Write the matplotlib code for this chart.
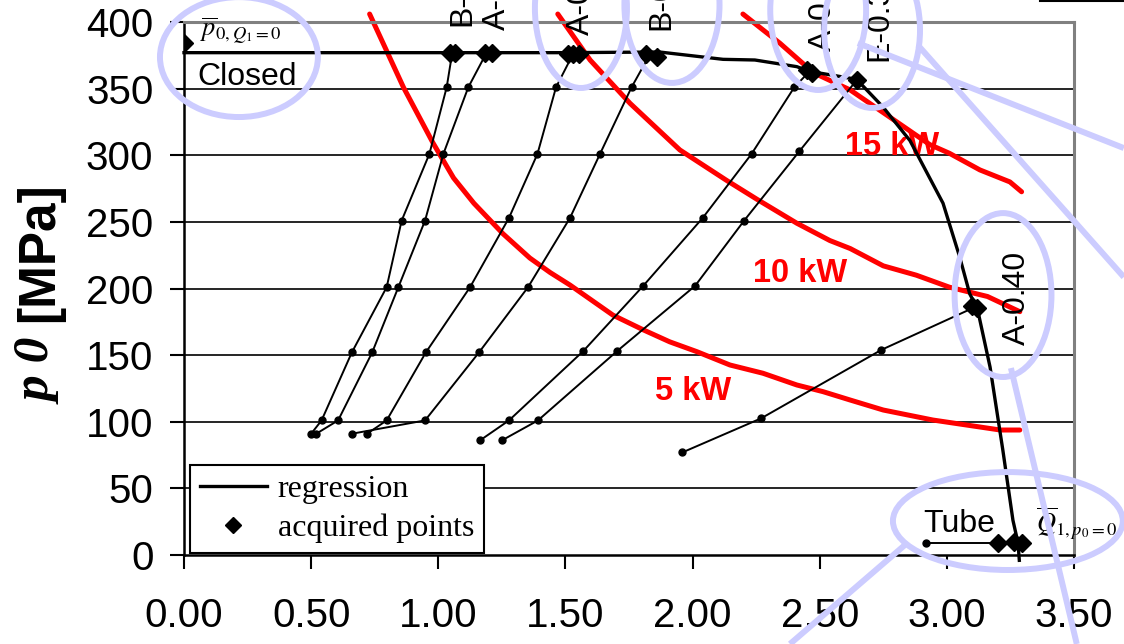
"""Operating map of injection pressure p0 versus flow, with constant-power curves."""

import matplotlib

matplotlib.use("Agg")  # Non-interactive backend

import matplotlib.pyplot as plt
from matplotlib.lines import Line2D
from matplotlib.patches import Ellipse

plt.rcParams["font.family"] = ["Liberation Sans", "DejaVu Sans"]
plt.rcParams["mathtext.fontset"] = "stix"

# Regression through the acquired points
reg_q = [0.0, 1.0, 1.5, 1.87, 2.12, 2.245, 2.41, 2.46, 2.645, 2.75, 2.855,
         2.985, 3.05, 3.09, 3.12, 3.17, 3.22, 3.26, 3.28, 3.285]
reg_p = [377, 377, 377, 377.5, 372, 371.5, 366.5, 363, 357, 336, 311,
         264, 224, 196, 185, 141, 79, 26, 9, -4]

# Acquired points (end points of each nozzle line)
acq_q = [0.0, 1.045, 1.065, 1.185, 1.21, 1.51, 1.53, 1.555, 1.815, 1.86,
         2.45, 2.47, 2.646, 3.10, 3.12, 3.20, 3.265, 3.295]
acq_p = [384.5, 377, 377, 377, 377, 376, 376, 376, 376, 374,
         364, 362, 356.5, 187, 185, 9, 10, 9]

# Nozzle characteristic lines (measured points, last one is the acquired point)
b1_q = [0.50, 0.541, 0.66, 0.797, 0.856, 0.965, 1.033, 1.055]
b1_p = [91, 101, 152, 201, 251, 301, 351, 377]
a1_q = [0.52, 0.606, 0.74, 0.843, 0.948, 1.02, 1.118, 1.19]
a1_p = [91, 101, 152, 201, 251, 301, 351, 377]
a2_q = [0.72, 0.797, 0.951, 1.125, 1.278, 1.39, 1.463, 1.53]
a2_p = [91, 101, 152, 201, 253, 301, 351, 376]
b2_q = [0.66, 0.948, 1.16, 1.353, 1.518, 1.636, 1.76, 1.83]
b2_p = [91, 101, 152, 201, 253, 301, 351, 375]
a3_q = [1.164, 1.278, 1.57, 1.806, 2.04, 2.232, 2.40, 2.46]
a3_p = [86, 101, 153, 202, 253, 301, 351, 363]
e3_q = [1.25, 1.392, 1.703, 2.01, 2.203, 2.42, 2.646]
e3_p = [86, 101, 153, 202, 251, 303, 356.5]
a4_q = [1.96, 2.27, 2.743, 3.11]
a4_p = [77, 102.6, 154, 186]
tube_q = [2.918, 3.20]
tube_p = [9, 9]

line_labels = ["B-0.20", "A-0.20", "A-0.25", "B-0.25", "A-0.30", "E-0.30", "A-0.40"]

# Constant hydraulic power curves
p5_q = [0.73, 0.863, 0.98, 1.06, 1.14, 1.255, 1.36, 1.44, 1.518, 1.687, 1.806,
        1.91, 2.017, 2.147, 2.277, 2.41, 2.513, 2.62, 2.75, 2.945, 3.21, 3.287]
p5_p = [406, 351, 309, 283, 264, 241, 222.9, 212, 202.6, 180, 169,
        160, 152.6, 142.6, 136.4, 127.6, 122.6, 116.3, 108.8, 101.3, 93.8, 93.8]
p10_q = [1.47, 1.597, 1.754, 1.95, 2.135, 2.253, 2.41, 2.54, 2.62, 2.75,
         2.88, 3.01, 3.16, 3.287]
p10_p = [406, 371.5, 339, 304, 281, 267, 249, 236, 230, 217,
         210, 201, 194, 182.6]
p15_q = [2.198, 2.344, 2.475, 2.62, 2.75, 2.933, 3.01, 3.13, 3.248, 3.294]
p15_p = [406, 384, 362, 349, 332, 308, 301.5, 289, 280, 272.6]

x_ticks = [0.0, 0.5, 1.0, 1.5, 2.0, 2.5, 3.0, 3.5]
y_ticks = [0, 50, 100, 150, 200, 250, 300, 350, 400]

HIGHLIGHT = "#ccccff"
RED = "#ff0000"
SERIF = ["Liberation Serif", "DejaVu Serif"]

fig = plt.figure(figsize=(11.24, 6.44), dpi=100)
ax = fig.add_axes([0.1637, 0.1382, 0.7918, 0.8276])

ax.set_xlim(0, 3.5)
ax.set_ylim(0, 400)
ax.set_xticks(x_ticks)
ax.set_xticklabels([f"{v:.2f}" for v in x_ticks])
ax.set_yticks(y_ticks)
ax.tick_params(axis="both", direction="out", length=10, width=1.5,
               labelsize=29, color="black")
ax.tick_params(axis="x", pad=20)
ax.tick_params(axis="y", pad=12)

# horizontal grid only, the frame top replaces the 400 line
for y in y_ticks[1:-1]:
    ax.axhline(y, color="black", lw=1.2, zorder=1)

for side in ("left", "bottom"):
    ax.spines[side].set_color("black")
    ax.spines[side].set_linewidth(1.8)
for side in ("top", "right"):
    ax.spines[side].set_color("#808080")
    ax.spines[side].set_linewidth(2.2)

# power curves
for q, p in ((p5_q, p5_p), (p10_q, p10_p), (p15_q, p15_p)):
    ax.plot(q, p, color=RED, lw=3.6, solid_capstyle="round", zorder=2,
            clip_on=False)
ax.text(1.852, 116.3, "5 kW", color=RED, fontsize=23.5, fontweight="bold",
        ha="left", va="baseline", zorder=2.5)
ax.text(2.2375, 204.9, "10 kW", color=RED, fontsize=23.5, fontweight="bold",
        ha="left", va="baseline", zorder=2.5)
ax.text(2.599, 300.2, "15 kW", color=RED, fontsize=23.5, fontweight="bold",
        ha="left", va="baseline", zorder=2.5)

# nozzle lines with their measured points
nozzles = [(b1_q, b1_p), (a1_q, a1_p), (a2_q, a2_p), (b2_q, b2_p),
           (a3_q, a3_p), (e3_q, e3_p), (a4_q, a4_p), (tube_q, tube_p)]
for q, p in nozzles:
    ax.plot(q, p, color="black", lw=1.4, zorder=3)
    ax.plot(q[:-1], p[:-1], ls="none", marker="o", ms=5, color="black",
            zorder=3)

ax.plot(reg_q, reg_p, color="black", lw=2.4, zorder=3.5, clip_on=False)
ax.plot(acq_q, acq_p, ls="none", marker="D", ms=9, color="black", zorder=4)

# nozzle names above the acquired points
label_pos = [(1.093, 397.0), (1.231, 394.0), (1.561, 390.0), (1.876, 394.0),
             (2.513, 378.5), (2.733, 370.5), (3.276, 157.6)]
for text, (x, y) in zip(line_labels, label_pos):
    ax.text(x, y, text, rotation=90, fontsize=23, ha="center", va="bottom",
            zorder=2.6, clip_on=False)

ax.text(0.051, 352.7, "Closed", fontsize=23, ha="left", va="baseline")
ax.text(2.906, 17.3, "Tube", fontsize=23, ha="left", va="baseline")
ax.text(0.063, 389.5, r"$\overline{p}_{0,Q_1{=}0}$", fontsize=19,
        ha="left", va="baseline")
ax.text(3.350, 18, r"$\overline{Q}_{1,p_0{=}0}$", fontsize=19,
        ha="left", va="baseline")

fig.text(40 / 1124, 1 - 322 / 644, "[MPa]", rotation=90, fontsize=37,
         fontweight="bold", ha="center", va="bottom")
fig.text(40 / 1124, 1 - 404 / 644, "p 0", rotation=90, fontsize=37,
         fontweight="bold", fontstyle="italic", family=SERIF,
         ha="center", va="bottom")

handles = [Line2D([], [], color="black", lw=2.4),
           Line2D([], [], color="black", marker="D", ls="none", ms=8)]
leg = ax.legend(handles, ["regression", "acquired points"], loc="lower left",
                bbox_to_anchor=(0.0067, 0.004), borderaxespad=0,
                prop={"family": SERIF, "size": 23}, fancybox=False,
                edgecolor="black", framealpha=1, handlelength=2.1,
                handletextpad=0.35, labelspacing=0.3, borderpad=0.3)
leg.get_frame().set_linewidth(1.5)
leg.set_zorder(6)

# highlight marks drawn over the chart
ellipses = [((0.216, 373.7), 0.621, 90), ((1.561, 410.5), 0.362, 120),
            ((1.919, 412.8), 0.374, 117), ((2.494, 409.0), 0.377, 120),
            ((2.706, 394.0), 0.377, 117), ((3.221, 195.1), 0.381, 123),
            ((3.240, 25.5), 0.904, 73.5)]
for center, w, h in ellipses:
    ax.add_patch(Ellipse(center, w, h, fill=False, edgecolor=HIGHLIGHT,
                         lw=4.3, zorder=10, clip_on=False))
pointers = [((2.650, 3.696), (384.2, 305.4)), ((2.886, 3.696), (382.7, 208.6)),
            ((3.252, 3.511), (140.3, -66.8)), ((2.835, 2.383), (7.5, -66.8))]
for xs, ys in pointers:
    ax.plot(xs, ys, color=HIGHLIGHT, lw=4.3, zorder=10, clip_on=False,
            solid_capstyle="butt")

fig.add_artist(Line2D([1040 / 1124, 1.0], [0.999, 0.999], color="black",
                      lw=1.5, transform=fig.transFigure))

fig.savefig("out.png", dpi=100)
